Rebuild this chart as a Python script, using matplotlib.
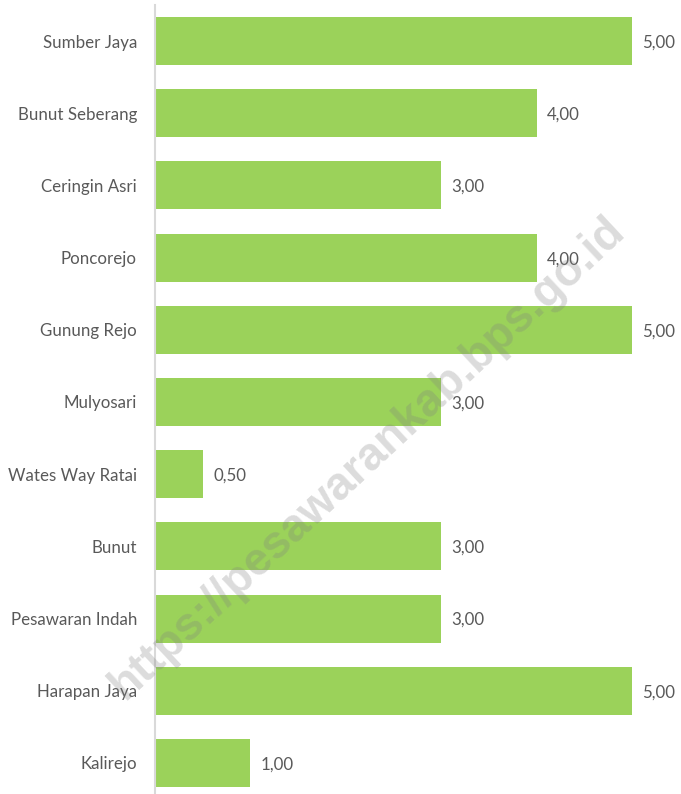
import matplotlib
matplotlib.use('Agg')
import matplotlib.pyplot as plt
import numpy as np

# data desa dan nilai
desa = ['Sumber Jaya', 'Bunut Seberang', 'Ceringin Asri', 'Poncorejo', 'Gunung Rejo',
        'Mulyosari', 'Wates Way Ratai', 'Bunut', 'Pesawaran Indah', 'Harapan Jaya', 'Kalirejo']
nilai = [5.0, 4.0, 3.0, 4.0, 5.0, 3.0, 0.5, 3.0, 3.0, 5.0, 1.0]

plt.rcParams['font.family'] = ['Lato', 'DejaVu Sans']

W, H = 681, 794
fig = plt.figure(figsize=(W / 100, H / 100), dpi=100)
ax = fig.add_axes([155 / W, -5 / H, (W - 155) / W, 1.0])

y = np.arange(len(desa))
ax.barh(y, nilai, height=0.665, color='#9BD25A', zorder=2)
ax.set_ylim(len(desa) - 0.5, -0.5)
ax.set_xlim(0, (W - 155) / (477 / 5))

ax.set_yticks(y)
ax.set_yticklabels(desa, fontsize=12.2, color='#595959', va='center_baseline')
ax.tick_params(axis='y', length=0, pad=13)
ax.set_xticks([])

for s in ['top', 'right', 'bottom']:
    ax.spines[s].set_visible(False)
ax.spines['left'].set_color('#D9D9D9')
ax.spines['left'].set_linewidth(1.5)

for yi, v in zip(y, nilai):
    ax.text(v + 0.11, yi, f'{v:.2f}'.replace('.', ','), va='center_baseline', ha='left',
            fontsize=12.2, color='#595959')

# watermark
fig.text(368 / W, 1 - 458 / H, 'https://pesawarankab.bps.go.id', rotation=43,
         ha='center', va='center', fontsize=33, fontweight='bold',
         family='Liberation Sans', color='#808080', alpha=0.28, zorder=10)

plt.savefig('out.png', dpi=100)
